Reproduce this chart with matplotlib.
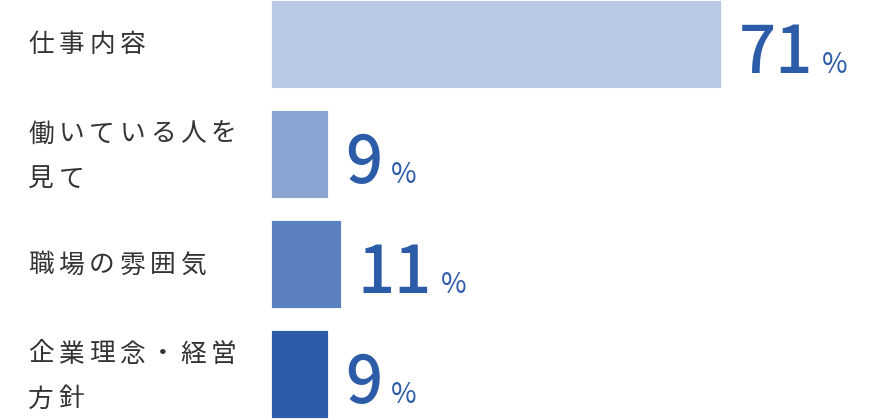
import matplotlib
matplotlib.use("Agg")
import matplotlib.pyplot as plt
import numpy as np

plt.rcParams["font.family"] = ["Noto Sans CJK JP", "DejaVu Sans"]

# data
labels = [["仕事内容"], ["働いている人を", "見て"], ["職場の雰囲気"], ["企業理念・経営", "方針"]]
values = [71, 9, 11, 9]
bar_colors = ["#b9c8e3", "#89a4d0", "#5b80bf", "#2c5ba8"]

text_blue = "#2c5ba8"
label_grey = "#333333"

fig = plt.figure(figsize=(8.8, 4.2), dpi=100, facecolor="white")
ax = fig.add_axes([271 / 880, 0, 609 / 880, 1])
ypos = np.arange(len(values))

ax.barh(ypos, values, height=0.8, color=bar_colors, edgecolor="#ffffff", linewidth=0.6)
ax.set_xlim(0, 96)
ax.set_ylim(3.4 + 2 / 110, -0.4)
ax.axis("off")

# category labels, drawn glyph by glyph for the wide letter spacing
advance = 30.5
for i, lines in enumerate(labels):
    if len(lines) == 1:
        offsets = [-1.5]
    else:
        offsets = [19.5, -25.5]
    for line, dy in zip(lines, offsets):
        for k, ch in enumerate(line):
            ax.annotate(ch, xy=(28, i), xycoords=("figure pixels", "data"),
                        xytext=(k * advance, dy), textcoords="offset pixels",
                        ha="left", va="center", fontsize=18.5, color=label_grey)

# value labels
fig.canvas.draw()
renderer = fig.canvas.get_renderer()
for i, v in enumerate(values):
    num = ax.annotate(str(v), xy=(v, i), xytext=(17, -29), textcoords="offset pixels",
                      ha="left", va="baseline", fontsize=47, fontweight="medium",
                      color=text_blue)
    w = num.get_window_extent(renderer).width
    ax.annotate("%", xy=(v, i), xytext=(17 + w + 9, -29), textcoords="offset pixels",
                ha="left", va="baseline", fontsize=20, color=text_blue)

fig.savefig("out.png", dpi=100, facecolor="white")
